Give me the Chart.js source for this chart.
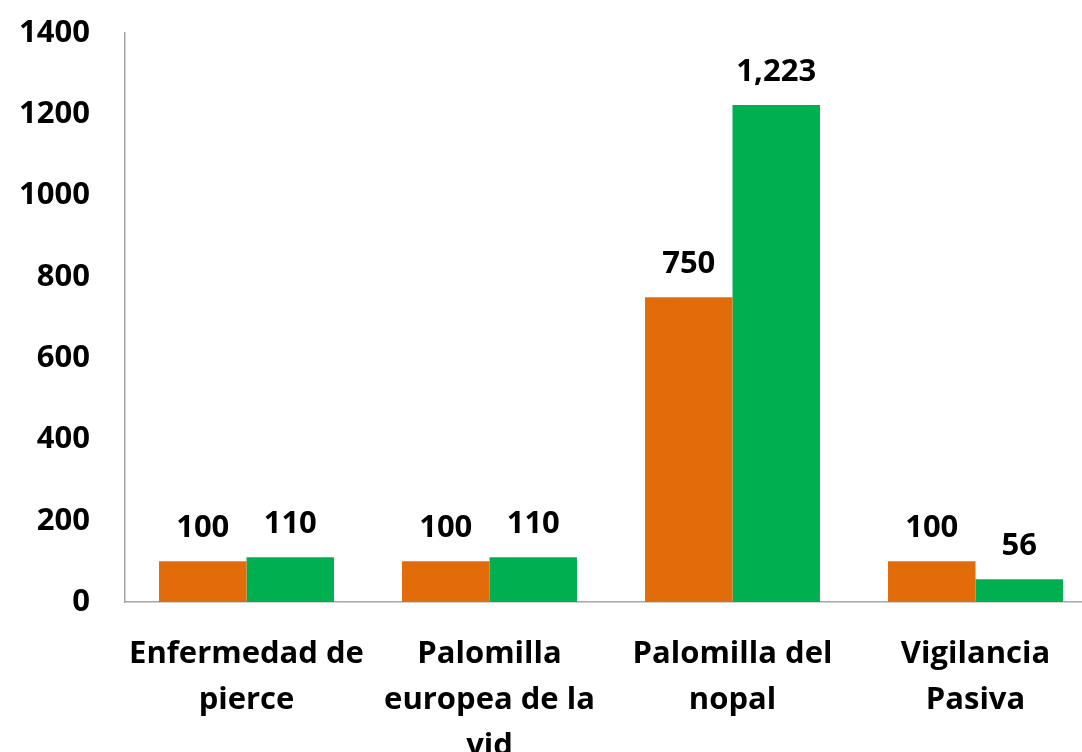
<!DOCTYPE html>
<html>
<head>
<meta charset="utf-8">
<script src="https://cdn.jsdelivr.net/npm/chart.js@4"></script>
<style>
  html, body { margin: 0; padding: 0; background: #fff; overflow: hidden; }
  #wrap { width: 1097px; height: 752px; }
</style>
</head>
<body>
<div id="wrap"><canvas id="chart"></canvas></div>
<script>
var categories = [
    ['Enfermedad de', 'pierce'],
    ['Palomilla', 'europea de la', 'vid'],
    ['Palomilla del', 'nopal'],
    ['Vigilancia', 'Pasiva']
];
var seriesA = [100, 100, 750, 100];
var seriesB = [110, 110, 1223, 56];
var yTicks = [0, 200, 400, 600, 800, 1000, 1200, 1400];

var FONT = '"Open Sans", sans-serif';
var SIZE = 31;

// labels above each bar, like the Excel data labels
var barLabels = {
    id: 'barLabels',
    afterDatasetsDraw: function (chart) {
        var ctx = chart.ctx;
        ctx.save();
        ctx.font = 'bold ' + SIZE + 'px ' + FONT;
        ctx.fillStyle = '#000';
        ctx.textAlign = 'center';
        ctx.textBaseline = 'middle';
        chart.data.datasets.forEach(function (ds, i) {
            chart.getDatasetMeta(i).data.forEach(function (bar, j) {
                var v = ds.data[j];
                ctx.fillText(v.toLocaleString('en-US'), bar.x, bar.y - 33);
            });
        });
        ctx.restore();
    }
};

new Chart(document.getElementById('chart'), {
    type: 'bar',
    data: {
        labels: categories,
        datasets: [{
            data: seriesA,
            backgroundColor: '#E36C0A',
            categoryPercentage: 0.72,
            barPercentage: 1
        }, {
            data: seriesB,
            backgroundColor: '#00B050',
            categoryPercentage: 0.72,
            barPercentage: 1
        }]
    },
    options: {
        responsive: true,
        maintainAspectRatio: false,
        animation: false,
        layout: { padding: { top: 33, right: 0, left: 0, bottom: 0 } },
        plugins: {
            legend: { display: false },
            tooltip: { enabled: false }
        },
        scales: {
            x: {
                grid: { display: false, drawTicks: false },
                border: { display: true, color: '#a6a6a6', width: 1.5 },
                ticks: {
                    color: '#000',
                    padding: 29,
                    maxRotation: 0,
                    autoSkip: false,
                    font: { family: FONT, size: SIZE, weight: 'bold', lineHeight: 1.49 }
                },
                afterFit: function (s) { s.height = 150; s.paddingTop = 0; s.paddingBottom = 0; }
            },
            y: {
                min: 0,
                max: 1400,
                grid: { display: false, drawTicks: false },
                border: { display: true, color: '#a6a6a6', width: 1.5 },
                afterBuildTicks: function (s) {
                    s.ticks = yTicks.map(function (v) { return { value: v }; });
                },
                ticks: {
                    color: '#000',
                    padding: 35,
                    callback: function (v) { return String(v); },
                    font: { family: FONT, size: SIZE, weight: 'bold' }
                },
                afterFit: function (s) { s.width = 125; s.paddingTop = 0; s.paddingBottom = 0; }
            }
        }
    },
    plugins: [barLabels]
});
</script>
</body>
</html>
